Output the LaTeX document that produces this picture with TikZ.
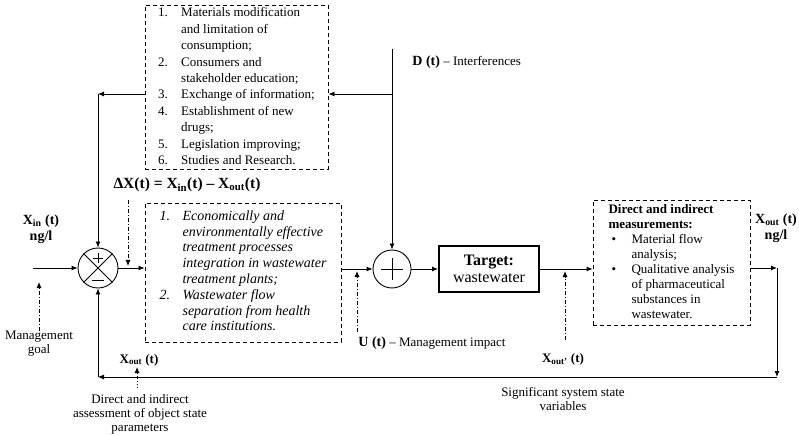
\documentclass[tikz,border=0pt]{standalone}
\usepackage{fontspec}
\setmainfont{Liberation Serif}
\usetikzlibrary{arrows.meta}
\newcommand{\xs}[1]{X\textsubscript{#1}}
\newcommand{\fs}[2]{\fontsize{#1}{#2}\selectfont}

\begin{document}
\begin{tikzpicture}[x=1pt,y=-1pt,>={Latex[length=6pt,width=5pt]},line width=0.9pt,
    dbox/.style={draw,dash pattern=on 4pt off 3pt,inner sep=0pt},
    ctrl/.style={->,dash pattern=on 4pt off 2pt on 1pt off 2pt},
    lbl/.style={font=\fs{13}{14},align=center,inner sep=0pt}]
    \useasboundingbox (0,0) rectangle (799,435);

    % blocks
    \node[dbox,minimum width=183pt,minimum height=159pt,font=\fs{13}{16.4}] (acts) at (236.5,87.5) {%
      \begin{tabular}{@{}p{23pt}@{}l@{}}
        1. & Materials modification\\
           & and limitation of\\
           & consumption;\\
        2. & Consumers and\\
           & stakeholder education;\\
        3. & Exchange of information;\\
        4. & Establishment of new\\
           & drugs;\\
        5. & Legislation improving;\\
        6. & Studies and Research.
      \end{tabular}};
    \node[dbox,minimum width=196pt,minimum height=139pt,font=\fs{14}{15.8}\itshape] (tech) at (243,272.5) {%
      \begin{tabular}{@{}p{23pt}@{}l@{}}
        1. & Economically and\\
           & environmentally effective\\
           & treatment processes\\
           & integration in wastewater\\
           & treatment plants;\\
        2. & Wastewater flow\\
           & separation from health\\
           & care institutions.
      \end{tabular}};
    \node[draw,line width=2pt,minimum width=100pt,minimum height=46pt,align=center,font=\fs{16}{17}] (target) at (489,269) {\textbf{Target:}\\wastewater};
    \node[dbox,minimum width=157pt,minimum height=125pt,font=\fs{13}{15}] (meas) at (671.5,262.5) {%
      \begin{tabular}{@{}p{23pt}@{}l@{}}
        \multicolumn{2}{@{}l@{}}{\textbf{Direct and indirect}}\\
        \multicolumn{2}{@{}l@{}}{\textbf{measurements:}}\\
        \hspace*{3pt}\textbullet & Material flow\\
           & analysis;\\
        \hspace*{3pt}\textbullet & Qualitative analysis\\
           & of pharmaceutical\\
           & substances in\\
           & wastewater.
      \end{tabular}};

    % comparators
    \node[circle,draw,minimum size=40pt,inner sep=0pt] (sum1) at (98,268) {};
    \draw (sum1.north west) -- (sum1.south east) (sum1.north east) -- (sum1.south west);
    \draw (sum1.center) ++(-5,-10) -- ++(10,0) (sum1.center) ++(0,-15) -- ++(0,10);
    \draw (sum1.center) ++(-6,12) -- ++(12,0);
    \node[circle,draw,minimum size=38pt,inner sep=0pt] (sum2) at (392,269) {};
    \draw (sum2.center) ++(-11,0) -- ++(22,0) (sum2.center) ++(0,-11) -- ++(0,22);

    % labels
    \node[lbl,font=\fs{14}{16}\bfseries] (xin) at (41,229) {\xs{in} (t)\\ng/l};
    \node[lbl] (goal) at (39,344) {Management\\goal};
    \node[lbl,font=\fs{15.5}{16}\bfseries] (dx) at (187,185) {ΔX(t) = \xs{in}(t) – \xs{out}(t)};
    \node[lbl,anchor=west] (dlab) at (412,62) {{\fs{14}{16}\bfseries D (t)} – Interferences};
    \node[lbl,anchor=west] (ulab) at (358,343) {{\fs{14}{16}\bfseries U (t)} – Management impact};
    \node[lbl,font=\fs{13}{14}\bfseries] (xo1) at (563,359) {\xs{out'} (t)};
    \node[lbl,font=\fs{14}{16}\bfseries] (xo2) at (776,228) {\xs{out} (t)\\ng/l};
    \node[lbl,font=\fs{13}{14}\bfseries] (xo3) at (139,360) {\xs{out} (t)};
    \node[lbl] (assess) at (140,414) {Direct and indirect\\assessment of object state\\parameters};
    \node[lbl] (sig) at (563,399) {Significant system state\\variables};

    % corners and free ends
    \coordinate (in) at (33,268);
    \coordinate (c1) at (98,94);
    \coordinate (dtop) at (392,49);
    \coordinate (d1) at (392,94);
    \coordinate (c2) at (777,268);
    \coordinate (c3) at (777,377);
    \coordinate (gtip) at (39,282);
    \coordinate (dxa) at (128,200);
    \coordinate (dxb) at (128,266);
    \coordinate (ua) at (357,332);
    \coordinate (ub) at (357,271);
    \coordinate (oa) at (565,340);
    \coordinate (ob) at (565,271);
    \coordinate (fa) at (137,388);
    \coordinate (fb) at (137,367);

    % main loop
    \path [->] (in) edge (sum1);
    \path [->] (acts.west |- c1) edge (c1);
    \path [->] (c1) edge (sum1);
    \path [->] (dtop) edge (sum2);
    \path [->] (d1) edge (d1 -| acts.east);
    \path [->] (sum1) edge (sum1 -| tech.west);
    \path [->] (tech.east |- sum2) edge (sum2);
    \path [->] (sum2) edge (target);
    \path [->] (target) edge (target -| meas.west);
    \path [->] (c2 -| meas.east) edge (c2);
    \path [->] (c2) edge (c3);
    \path [->] (c3) edge (sum1 |- c3);
    \path [->] (sum1 |- c3) edge (sum1);

    % control inputs
    \path [ctrl] (goal) edge (gtip);
    \path [ctrl] (dxa) edge (dxb);
    \path [ctrl] (ua) edge (ub);
    \path [ctrl] (oa) edge (ob);
    \path [->,dotted] (fa) edge (fb);
  \end{tikzpicture}
\end{document}
